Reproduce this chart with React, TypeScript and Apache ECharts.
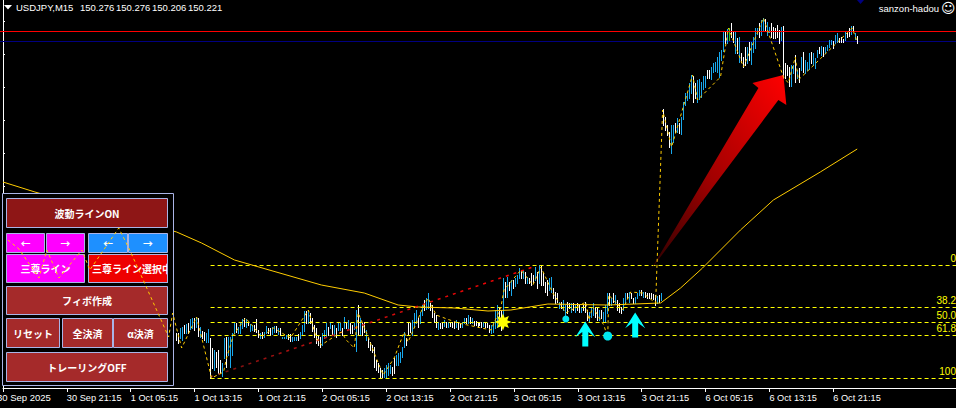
import React, { useEffect, useRef } from "react";
import * as echarts from "echarts";

const FIRST_BAR = 87;
// [high, low, dir] dir: 0 down (white), 1 up (blue), 2 doji (green)
const bars1Oct: number[][] = [
[147.30,147.23,0],[147.30,147.20,0],[147.35,147.25,1],[147.36,147.23,1],[147.38,147.30,0],[147.39,147.30,1],[147.40,147.30,0],[147.44,147.34,1],
[147.45,147.35,1],[147.45,147.33,0],[147.46,147.36,1],[147.45,147.27,0],[147.36,147.26,1],[147.32,147.25,0],[147.31,147.23,0],[147.30,147.21,1],
[147.34,147.21,1],[147.25,146.85,0],[147.15,146.95,0],[147.13,146.93,1],[147.11,146.96,0],[147.13,146.90,0],[147.03,146.90,0],[147.00,146.87,1],
[147.25,147.05,1],[147.26,146.96,0],[147.26,147.08,1],[147.26,146.96,1],[147.30,147.08,1],[147.41,147.30,1],[147.40,147.31,0],[147.36,147.30,1],
[147.40,147.30,1],[147.44,147.35,1],[147.45,147.37,0],[147.44,147.36,1],[147.41,147.38,0],[147.39,147.32,1],[147.38,147.33,1],[147.38,147.32,0],
[147.44,147.31,0],[147.33,147.26,0],[147.30,147.25,1],[147.31,147.25,0],[147.31,147.26,1],[147.37,147.30,1],[147.35,147.30,0],[147.35,147.28,0],
[147.36,147.29,1],[147.37,147.31,1],[147.37,147.31,0],[147.35,147.29,1],[147.35,147.28,0],[147.26,147.25,1],[147.26,147.25,1],[147.28,147.25,1],
[147.29,147.24,0],[147.29,147.22,0],[147.26,147.22,1],[147.26,147.23,1],[147.26,147.23,1],[147.29,147.23,0],[147.31,147.25,1],[147.38,147.28,1],
[147.52,147.32,1],[147.52,147.40,0],[147.53,147.40,1],[147.50,147.40,0],[147.45,147.32,0],[147.38,147.26,0],[147.35,147.20,0],[147.28,147.18,0],
[147.26,147.16,0],[147.30,147.18,1],[147.33,147.25,1],[147.40,147.26,1],[147.36,147.28,0],[147.40,147.35,1],[147.38,147.28,0],[147.38,147.28,1],
[147.35,147.26,0],[147.40,147.33,1],[147.40,147.33,1],[147.35,147.28,0],
];
const bars2Oct: number[][] = [
[147.46,147.35,1],[147.41,147.35,0],[147.43,147.34,1],[147.40,147.30,0],[147.38,147.30,0],[147.40,147.34,1],[147.53,147.12,1],[147.58,147.28,0],
[147.45,147.28,1],[147.40,147.28,0],[147.41,147.31,0],[147.33,147.23,1],[147.25,147.16,0],[147.21,147.13,0],[147.18,147.11,0],[147.16,146.96,0],
[147.03,146.93,0],[147.00,146.91,0],[146.95,146.86,0],[146.93,146.86,0],[146.95,146.86,1],[146.98,146.86,1],[147.00,146.88,1],[146.98,146.90,1],
[146.96,146.88,0],[147.05,146.90,0],[147.08,146.98,1],[147.10,146.98,1],[147.11,147.01,1],[147.16,147.06,1],[147.31,147.16,1],[147.25,147.18,0],
[147.40,147.28,0],[147.40,147.31,0],[147.43,147.28,1],[147.50,147.36,1],[147.53,147.40,1],[147.45,147.36,0],[147.51,147.40,1],[147.58,147.48,1],
[147.63,147.53,0],[147.65,147.54,1],[147.70,147.55,1],[147.60,147.53,0],[147.58,147.46,0],[147.50,147.41,0],[147.48,147.36,0],[147.41,147.34,1],
[147.40,147.35,0],[147.40,147.35,0],[147.43,147.37,1],[147.41,147.36,0],[147.41,147.36,1],[147.41,147.37,0],[147.41,147.36,0],[147.41,147.35,0],
[147.43,147.36,1],[147.40,147.34,0],[147.40,147.36,0],[147.41,147.36,1],[147.45,147.40,1],[147.45,147.40,0],[147.48,147.40,1],[147.46,147.40,0],
[147.45,147.40,1],[147.42,147.38,0],[147.42,147.38,0],[147.41,147.36,0],[147.41,147.38,0],[147.41,147.36,0],[147.41,147.37,1],[147.41,147.36,0],
[147.40,147.36,0],[147.38,147.31,0],[147.38,147.30,1],[147.40,147.31,1],[147.53,147.35,1],[147.58,147.36,1],[147.55,147.41,0],[147.53,147.33,0],
[147.85,147.41,1],
];
const bars3Oct: number[][] = [
[147.81,147.66,0],[147.86,147.66,1],[147.81,147.73,0],[147.83,147.68,1],[147.83,147.75,0],[147.85,147.77,1],[147.88,147.80,1],[147.95,147.85,1],
[147.93,147.85,0],[147.93,147.85,1],[147.91,147.80,0],[147.86,147.80,1],[147.85,147.80,0],[147.90,147.78,0],[147.88,147.80,0],[147.96,147.83,1],
[147.91,147.75,0],[147.98,147.80,1],[147.98,147.78,0],[147.90,147.78,0],[147.81,147.71,0],[147.83,147.68,0],[147.85,147.73,1],[147.86,147.71,1],
[147.75,147.65,0],[147.71,147.60,0],[147.70,147.61,0],[147.61,147.55,1],[147.61,147.55,0],[147.63,147.53,1],[147.58,147.48,1],[147.61,147.50,0],
[147.60,147.55,0],[147.60,147.51,1],[147.60,147.53,0],[147.58,147.51,1],[147.60,147.53,0],[147.58,147.51,0],[147.56,147.51,1],[147.58,147.53,0],
[147.61,147.51,0],[147.53,147.43,0],[147.51,147.41,1],[147.56,147.46,1],[147.60,147.48,1],[147.56,147.46,0],[147.56,147.43,0],[147.53,147.43,1],
[147.53,147.45,0],[147.51,147.41,1],[147.58,147.41,1],[147.70,147.50,1],[147.70,147.58,0],[147.65,147.58,1],[147.70,147.61,0],[147.68,147.60,1],
[147.63,147.53,0],[147.60,147.51,0],[147.56,147.50,0],[147.65,147.53,1],[147.70,147.60,1],[147.70,147.65,0],[147.71,147.61,1],[147.70,147.65,0],
[147.65,147.60,0],[147.66,147.60,1],[147.70,147.65,1],[147.73,147.68,1],[147.73,147.68,0],[147.71,147.66,1],[147.71,147.66,0],[147.70,147.65,0],
[147.70,147.65,0],[147.70,147.65,0],[147.69,147.64,0],[147.68,147.58,0],[147.67,147.60,1],[147.68,147.61,0],[147.70,147.63,1],
];
const bars6Oct: number[][] = [
[149.54,149.38,0],[149.46,149.33,0],[149.38,149.28,0],[149.31,149.16,0],[149.38,149.10,1],[149.38,149.21,1],[149.40,149.31,0],[149.45,149.31,1],
[149.40,149.30,0],[149.46,149.29,1],[149.61,149.44,1],[149.70,149.58,1],[149.71,149.63,1],[149.80,149.65,1],[149.88,149.70,1],[149.87,149.61,0],
[149.80,149.65,0],[149.83,149.61,1],[149.84,149.64,1],[149.81,149.66,1],[149.87,149.74,1],[149.87,149.76,1],[149.93,149.85,0],[149.93,149.85,0],
[149.96,149.84,1],[150.00,149.91,1],[150.01,149.92,1],[150.06,149.91,1],[150.11,149.86,1],[150.13,150.03,1],[150.32,150.12,1],[150.32,150.20,0],
[150.34,150.20,1],[150.35,150.23,2],[150.40,150.26,0],[150.32,150.21,0],[150.32,150.10,1],[150.25,150.10,0],[150.26,150.01,1],[150.10,150.01,0],
[150.06,149.96,0],[150.16,149.98,0],[150.16,150.00,1],[150.21,150.03,0],[150.21,149.99,1],[150.26,150.11,1],[150.35,150.15,1],[150.35,150.29,1],
[150.40,150.26,0],[150.43,150.28,1],[150.45,150.32,1],[150.44,150.32,0],[150.41,150.28,1],[150.36,150.31,1],[150.40,150.26,0],[150.36,150.25,0],
[150.35,150.25,0],[150.38,150.26,0],[150.33,150.20,0],[150.36,150.23,1],[150.37,149.85,0],[150.00,149.85,0],[149.98,149.88,0],[149.96,149.77,0],
[149.98,149.77,1],[149.98,149.90,1],[150.08,149.81,0],[149.93,149.85,1],[149.95,149.81,0],[150.06,149.93,1],[150.11,149.91,0],[150.03,149.90,1],
[150.01,149.93,1],[150.10,149.94,1],[150.11,150.00,0],[150.10,149.98,1],[150.05,149.95,1],[150.13,150.06,1],[150.16,150.10,0],[150.17,150.08,1],
[150.16,150.07,0],[150.16,150.10,1],[150.18,150.13,1],[150.23,150.16,1],[150.23,150.19,1],[150.22,150.15,0],[150.28,150.20,1],[150.30,150.21,1],
[150.25,150.21,0],[150.26,150.21,0],[150.24,150.21,0],[150.32,150.23,1],[150.30,150.26,0],[150.35,150.27,0],[150.37,150.29,1],[150.37,150.32,0],
[150.30,150.24,1],[150.27,150.20,0],
];

const zigzag: number[][] = [
[2.5,148.23],[8,148.14],[18,147.85],[22,148.13],[28,147.85],[39.5,148.13],[43.5,147.93],[58,148.35],[63.5,148.13],[68,147.93],
[83,147.26],[85,147.50],[89.5,147.15],[97,147.46],[104.5,146.85],[110.5,146.91],[112,147.05],[115.5,147.28],[121.5,147.45],[125.5,147.36],
[129.5,147.26],[135.5,147.35],[144,147.25],[153,147.53],[157,147.25],[159.5,147.18],[169.5,147.31],[172,147.23],[176,147.15],[178,147.50],
[183,147.26],[186,147.10],[190.5,146.88],[196,147.05],[201,147.31],[203,147.21],[210.5,147.56],[213,147.65],[217,147.48],[228,147.40],
[244.5,147.33],[249.5,147.56],[251,147.73],[259.5,147.93],[265.5,147.78],[269.5,147.96],[275.5,147.70],[282,147.50],[292,147.61],[293.5,147.43],
[295.5,147.56],[301,147.38],[303,147.26],[303.5,147.68],[310.5,147.53],[314.5,147.71],[320.5,147.70],[327,147.60],[330.5,149.53],[335,149.16],
[345.5,149.88],[348,149.63],[359.5,149.86],[363.5,150.35],[371,149.96],[381,150.45],[391,149.86],[393.5,149.80],[397,150.06],[398.5,149.83],
[425.5,150.35],[428,150.21],
];
const movingAverage: number[][] = [
[0,148.81],[16,148.71],[87,148.31],[99.5,148.20],[116,148.03],[159.5,147.78],[181,147.70],[198,147.58],[208,147.56],[226,147.55],
[243,147.52],[254.5,147.53],[273,147.59],[303,147.58],[329.5,147.60],[339.5,147.75],[350.5,147.95],[369.5,148.33],[386,148.63],[409.5,148.91],[428,149.14],
];
const redTrend: number[][] = [[104,146.86],[267,147.97]];
const arrowHull: number[][] = [[324.5,147.93],[378.5,149.75],[375.5,149.80],[391,149.88],[392.5,149.58],[388.5,149.63],[327.5,148.01]];
const FIB_START = 104;
const AXIS_END = 477.5;
const fibPrices = [147.98, 147.55, 147.41, 147.28, 146.85];
const fibNames = ["0", "38.2", "50.0", "61.8", "100"];
const upArrows: number[][] = [[291.75,147.29],[316.75,147.38]];
const cyanDots: number[][] = [[282,147.44,7],[303,147.27,9]];
const starPoint: number[][] = [[250.5,147.41]];
const timeLabels = ["","30 Sep 21:15","1 Oct 05:15","1 Oct 13:15","1 Oct 21:15","2 Oct 05:15","2 Oct 13:15","2 Oct 21:15","3 Oct 05:15","3 Oct 13:15","3 Oct 21:15","6 Oct 05:15","6 Oct 13:15","6 Oct 21:15"];
const timeTicks = [0,32,64,96,128,160,192,224,256,288,320,352,384,416];
const priceTicks = [150.42,150.09,149.76,149.43,149.10,148.77,148.44,148.11,147.78,147.45,147.12,146.79];
const ASK_LINE = 150.32;
const BID_LINE = 150.22;
const headerQuotes = ["150.276","150.276","150.206","150.221"];

const UI = '"Liberation Sans", sans-serif';
const JP = '"Noto Sans CJK JP", sans-serif';
const BORDER = "#aab4e6";
const buttons = [
  { label: "波動ラインON", x: 6.5, y: 198.5, w: 161, h: 29, fill: "#8e1616" },
  { label: "←", x: 6.5, y: 233.5, w: 38, h: 19, fill: "#ff00ff" },
  { label: "→", x: 46.5, y: 233.5, w: 38, h: 19, fill: "#ff00ff" },
  { label: "←", x: 88.5, y: 233.5, w: 39, h: 19, fill: "#1e90ff" },
  { label: "→", x: 128.5, y: 233.5, w: 39, h: 19, fill: "#1e90ff" },
  { label: "三尊ライン", x: 6.5, y: 254.5, w: 78, h: 28, fill: "#ff00ff" },
  { label: "三尊ライン選択中", x: 88.5, y: 254.5, w: 79, h: 28, fill: "#ee0000", left: 92 },
  { label: "フィボ作成", x: 6.5, y: 286.5, w: 161, h: 28, fill: "#a52a2a" },
  { label: "リセット", x: 6.5, y: 318.5, w: 53, h: 29, fill: "#a52a2a" },
  { label: "全決済", x: 62.5, y: 318.5, w: 50, h: 29, fill: "#a52a2a" },
  { label: "α決済", x: 113.5, y: 318.5, w: 54, h: 29, fill: "#a52a2a" },
  { label: "トレーリングOFF", x: 6.5, y: 352.5, w: 161, h: 29, fill: "#a52a2a" },
];

const allBars = [...bars1Oct, ...bars2Oct, ...bars3Oct, ...bars6Oct].map((b, k) => [FIRST_BAR + k, b[0], b[1], b[2]]);
const barColors = ["#ffffff", "#18a8ec", "#22cc22"];

function panelElements(): any[] {
  const els: any[] = [
    { type: "rect", z: 50, silent: true, shape: { x: 2.5, y: 193.5, width: 171, height: 192 }, style: { fill: "#000", stroke: BORDER, lineWidth: 1 } },
  ];
  buttons.forEach((b) => {
    els.push({ type: "rect", z: 51, silent: true, shape: { x: b.x, y: b.y, width: b.w, height: b.h }, style: { fill: b.fill, stroke: BORDER, lineWidth: 1 } });
    els.push({
      type: "text", z: 52, silent: true,
      x: b.left !== undefined ? b.left : b.x + b.w / 2, y: b.y + b.h / 2,
      style: { text: b.label, fill: "#fff", font: `bold 10px ${JP}`, align: b.left !== undefined ? "left" : "center", verticalAlign: "middle" },
    });
  });
  els.push({ type: "rect", z: 53, silent: true, shape: { x: 168, y: 254, width: 5, height: 29 }, style: { fill: "#000" } });
  els.push({ type: "line", z: 53, silent: true, shape: { x1: 167.5, y1: 254, x2: 167.5, y2: 283 }, style: { stroke: BORDER, lineWidth: 1 } });
  return els;
}

function headerElements(): any[] {
  const txt = (text: string, x: number, y: number, extra: any = {}) => ({
    type: "text", silent: true, x, y, style: { text, fill: "#fff", font: `9.5px ${UI}`, verticalAlign: "middle", ...extra },
  });
  const quoteX = [80, 116, 152, 188];
  return [
    { type: "polygon", silent: true, shape: { points: [[4, 5], [12, 5], [8, 9.5]] }, style: { fill: "#fff" } },
    txt("USDJPY,M15", 16, 7),
    ...headerQuotes.map((q, k) => txt(q, quoteX[k], 7)),
    { type: "polygon", silent: true, shape: { points: [[857, 0], [864, 0], [860.5, 4]] }, style: { fill: "#000080" } },
    txt("sanzon-hadou", 939, 8, { align: "right" }),
    txt("☺", 941, 8, { font: '14px "DejaVu Sans"' }),
    txt("30 Sep 2025", -3, 397),
  ];
}

// snap a scaled position on the device pixel grid so that 1px strokes stay sharp
const snap = (v: number) => Math.floor(v) + 0.5;

function levelSeries(z: number, prices: number[], startBar: number, stroke: string, dash: number[] | null, names?: string[]) {
  return {
    type: "custom", z, silent: true, clip: false,
    data: prices.map((p) => [startBar, p]),
    encode: { x: 0, y: 1 },
    renderItem: (params: any, api: any) => {
      const a = api.coord([api.value(0), api.value(1)]);
      const b = api.coord([AXIS_END, api.value(1)]);
      const y = snap(a[1]);
      const children: any[] = [
        { type: "line", shape: { x1: startBar === 0 ? 0 : a[0], y1: y, x2: b[0], y2: y }, style: { stroke, lineWidth: 1, lineDash: dash || undefined } },
      ];
      if (names) {
        children.push({
          type: "text", x: b[0], y: y - 2,
          style: { text: names[params.dataIndex], fill: stroke, font: `10px ${UI}`, align: "right", verticalAlign: "bottom" },
        });
      }
      return { type: "group", children };
    },
  };
}

export default function App() {
  const ref = useRef<HTMLDivElement>(null);
  useEffect(() => {
    document.body.style.margin = "0";
    const chart = echarts.init(ref.current!, undefined, { renderer: "svg" });
    const barSeries = {
      type: "custom", z: 2, silent: true,
      data: allBars,
      encode: { x: 0, y: [1, 2] },
      renderItem: (_: any, api: any) => {
        const a = api.coord([api.value(0), api.value(1)]);
        const b = api.coord([api.value(0), api.value(2)]);
        const x = snap(a[0]);
        return {
          type: "line",
          shape: { x1: x, y1: Math.round(a[1]), x2: x, y2: Math.round(b[1]) + 1 },
          style: { stroke: barColors[api.value(3)], lineWidth: 1 },
        };
      },
    };
    const arrowSeries = {
      type: "custom", z: 8, silent: true,
      data: arrowHull,
      encode: { x: 0, y: 1 },
      renderItem: (p: any, api: any) => {
        if (p.dataIndex !== 0) return { type: "group", children: [] };
        const points = arrowHull.map((h) => api.coord(h));
        return {
          type: "polygon",
          shape: { points },
          style: {
            fill: new echarts.graphic.LinearGradient(0, 1, 1, 0, [
              { offset: 0, color: "#2a0000" },
              { offset: 0.45, color: "#a00000" },
              { offset: 1, color: "#ff0000" },
            ]),
          },
        };
      },
    };
    chart.setOption({
      animation: false,
      backgroundColor: "#000",
      textStyle: { fontFamily: UI },
      grid: { left: 1, right: 0, top: 0, height: 388, containLabel: false },
      xAxis: {
        type: "value", min: 0, max: AXIS_END, interval: 32,
        splitLine: { show: false },
        axisLine: { show: true, onZero: false, lineStyle: { color: "#fff", width: 1 } },
        axisTick: { show: true, length: 4, customValues: timeTicks, lineStyle: { color: "#fff" } },
        axisLabel: {
          show: true, customValues: timeTicks, color: "#fff", fontSize: 9.2, fontFamily: UI, align: "left", margin: 5,
          formatter: (v: number) => timeLabels[Math.round(v / 32)] || "",
        },
      },
      yAxis: {
        type: "value", min: 146.75, max: 150.63, position: "left",
        splitLine: { show: false },
        axisLine: { show: true, onZero: false, lineStyle: { color: "#fff", width: 1 } },
        axisTick: { show: true, inside: true, length: 2, customValues: priceTicks, lineStyle: { color: "#fff" } },
        axisLabel: { show: false },
      },
      graphic: { elements: [...headerElements(), ...panelElements()] },
      series: [
        levelSeries(1, [BID_LINE], 0, "#000080", null),
        barSeries,
        levelSeries(4, fibPrices, FIB_START, "#ffff00", [4, 3], fibNames),
        levelSeries(6, [ASK_LINE], 0, "#ff0000", null),
        { type: "line", z: 5, silent: true, data: movingAverage, symbol: "none", lineStyle: { color: "#ffcc00", width: 1 } },
        {
          type: "line", z: 7, silent: true, data: redTrend, symbol: "none",
          lineStyle: { width: 1.5, type: [3, 5], color: new echarts.graphic.LinearGradient(0, 0, 1, 0, [{ offset: 0, color: "#701010" }, { offset: 0.35, color: "#c01010" }, { offset: 1, color: "#ff0000" }]) },
        },
        arrowSeries,
        { type: "line", z: 60, silent: true, data: zigzag, symbol: "none", lineStyle: { color: "#ffcc00", width: 1, type: [3, 3] } },
        {
          type: "scatter", z: 61, silent: true, data: upArrows, symbol: "path://M10 0 L20 15 L13 10 L13 24 L7 24 L7 10 L0 15 Z",
          symbolSize: [20, 25], itemStyle: { color: "#00ffff", opacity: 1 },
        },
        {
          type: "scatter", z: 61, silent: true, data: cyanDots, symbol: "circle",
          symbolSize: (v: number[]) => v[2], itemStyle: { color: "#00e6f0", opacity: 1 },
        },
        {
          type: "scatter", z: 61, silent: true, data: starPoint,
          symbol: "path://M10 0 L12 5 L17 3 L15 8 L20 10 L15 12 L17 17 L12 15 L10 20 L8 15 L3 17 L5 12 L0 10 L5 8 L3 3 L8 5 Z",
          symbolSize: 17, itemStyle: { color: "#ffff00", opacity: 1 },
        },
      ],
    });
    return () => chart.dispose();
  }, []);
  return <div ref={ref} style={{ position: "fixed", left: 0, top: 0, width: 956, height: 408 }} />;
}
